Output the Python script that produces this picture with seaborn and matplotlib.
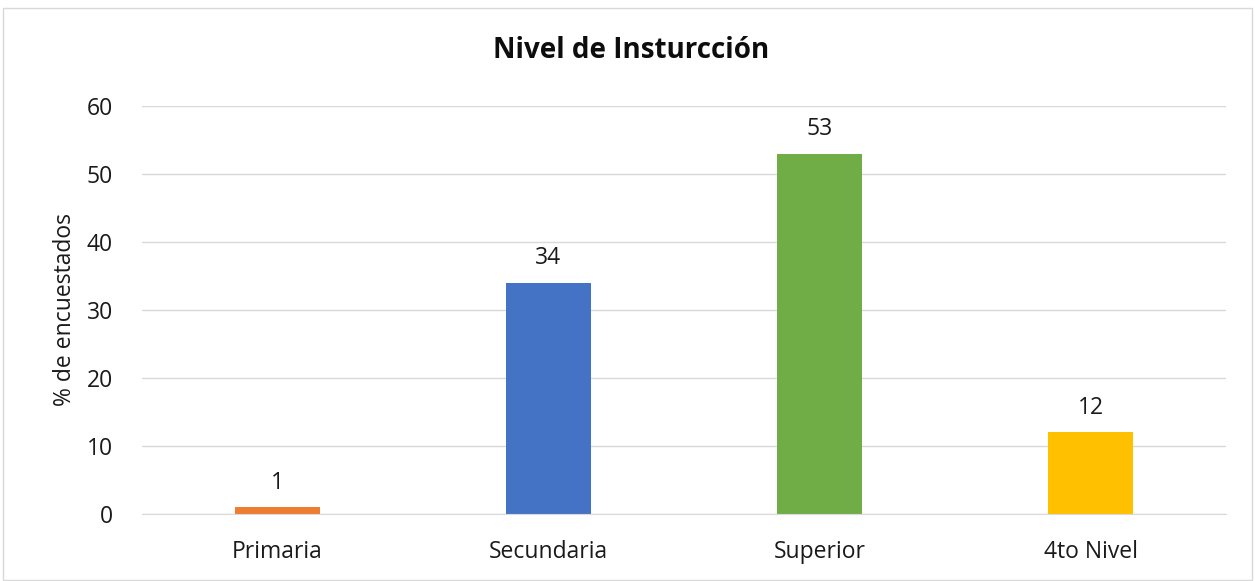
import seaborn as sns
import pandas as pd
import matplotlib.pyplot as plt
from matplotlib.patches import Rectangle

categorias = ['Primaria', 'Secundaria', 'Superior', '4to Nivel']
porcentajes = [1, 34, 53, 12]
colores = ['#ED7D31', '#4472C4', '#70AD47', '#FFC000']
y_ticks = [0, 10, 20, 30, 40, 50, 60]

df = pd.DataFrame({'nivel': categorias, 'pct': porcentajes})

sns.set_style('white')
plt.rcParams['font.family'] = ['Open Sans', 'DejaVu Sans']

fig = plt.figure(figsize=(12.55, 5.81), dpi=100)
ax = fig.add_axes([0.1131, 0.1153, 0.8638, 0.7023])

sns.barplot(data=df, x='nivel', y='pct', hue='nivel', palette=colores,
            width=0.315, legend=False, ax=ax, saturation=1, linewidth=0)

for i, v in enumerate(porcentajes):
    ax.annotate(str(v), (i, v), xytext=(0, 9), textcoords='offset points',
                ha='center', va='bottom', fontsize=16.5, color='#1a1a1a')

ax.set_ylim(0, 60)
ax.set_xlim(-0.5, 3.5)
ax.set_yticks(y_ticks)
ax.yaxis.grid(True, color='#d9d9d9', linewidth=1)
ax.set_axisbelow(True)
for s in ['top', 'right', 'left']:
    ax.spines[s].set_visible(False)
ax.spines['bottom'].set_color('#d9d9d9')
ax.tick_params(axis='both', length=0, labelsize=16.5, colors='#1a1a1a')
ax.tick_params(axis='x', pad=19)
ax.tick_params(axis='y', pad=21)
ax.set_xlabel('')
ax.set_ylabel('% de encuestados', fontsize=16.5, color='#1a1a1a', labelpad=7)
fig.text(0.503, 0.913, 'Nivel de Insturcción', ha='center', va='center',
         fontsize=20, fontweight='bold', color='#0d0d0d')

fig.patches.append(Rectangle((0.002, 0.002), 0.996, 0.985, transform=fig.transFigure,
                             fill=False, edgecolor='#d9d9d9', linewidth=1))

fig.savefig('out.png', dpi=100)
